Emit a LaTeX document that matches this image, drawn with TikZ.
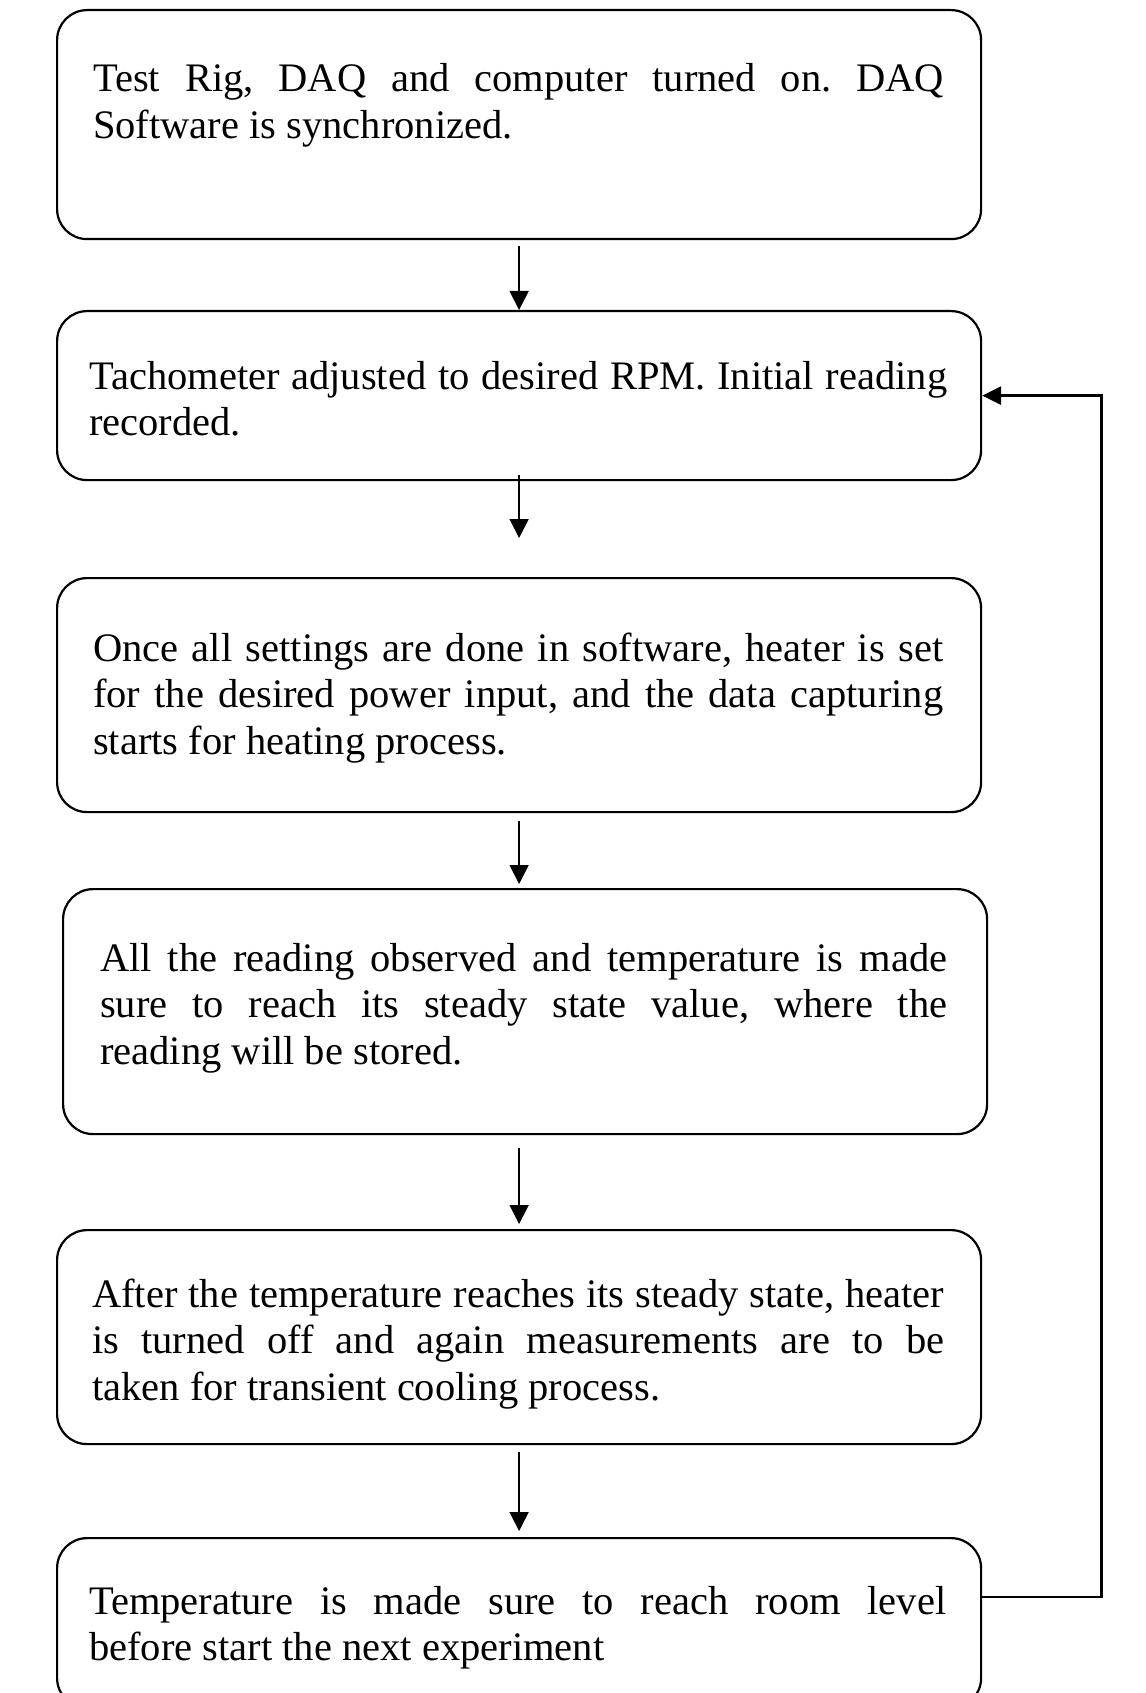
\documentclass[tikz,border=0pt]{standalone}
\usepackage{fontspec}
\setmainfont{Liberation Serif}
\usetikzlibrary{arrows.meta}
\frenchspacing
\newcommand\boxfont{\fontsize{40.5pt}{46.8pt}\selectfont\frenchspacing\tolerance=10000\hyphenpenalty=10000\parindent=0pt}
\begin{document}
\begin{tikzpicture}[x=1pt,y=-1pt,
  box/.style={draw, line width=2.2pt, rounded corners=30pt, inner sep=0pt, anchor=north west},
  txt/.style={inner sep=0pt, anchor=base west},
  arr/.style={line width=1.8pt, -{Triangle[width=19pt,length=19pt]}},
  fb/.style={line width=2.8pt, -{Triangle[width=18pt,length=19pt]}}]
\useasboundingbox (0,0) rectangle (1145,1693);
\clip (0,0) rectangle (1145,1693);

% boxes
\node[box, minimum width=924pt, minimum height=229pt] (b1) at (56,9) {};
\node[box, minimum width=924pt, minimum height=169pt] (b2) at (56,310) {};
\node[box, minimum width=924pt, minimum height=234pt] (b3) at (56,577) {};
\node[box, minimum width=924pt, minimum height=245pt] (b4) at (62,888) {};
\node[box, minimum width=924pt, minimum height=214pt] (b5) at (56,1229) {};
\node[box, minimum width=924pt, minimum height=170pt] (b6) at (56,1537) {};

% texts
\node[txt] (t1) at (93,92) {\parbox[t]{851pt}{\boxfont Test Rig, DAQ and computer turned on. DAQ\linebreak Software is synchronized.}};
\node[txt] (t2) at (89,389) {\parbox[t]{858pt}{\boxfont Tachometer adjusted to desired RPM. Initial reading\linebreak recorded.}};
\node[txt] (t3) at (93,661) {\parbox[t]{850pt}{\boxfont Once all settings are done in software, heater is set\linebreak for the desired power input, and the data capturing\linebreak starts for heating process.}};
\node[txt] (t4) at (100,971) {\parbox[t]{847pt}{\boxfont All the reading observed and temperature is made\linebreak sure to reach its steady state value, where the\linebreak reading will be stored.}};
\node[txt] (t5) at (92,1307) {\parbox[t]{852pt}{\boxfont After the temperature reaches its steady state, heater\linebreak is turned off and again measurements are to be\linebreak taken for transient cooling process.}};
\node[txt] (t6) at (89,1614) {\parbox[t]{857pt}{\boxfont Temperature is made sure to reach room level\linebreak before start the next experiment}};

% arrows
\draw[arr, shorten <=6pt] (b1.south) -- (b2.north);
\draw[arr, shorten <=-6pt, shorten >=39pt] (b2.south) -- (b3.north);
\draw[arr, shorten <=8pt, shorten >=4pt] (b3.south) -- (b3.south |- b4.north);
\draw[arr, shorten <=13pt, shorten >=5pt] (b5.north |- b4.south) -- (b5.north);
\draw[arr, shorten <=7pt, shorten >=6pt] (b5.south) -- (b6.north);

% feedback loop
\coordinate (loop) at (1101.5,0);
\draw[fb] ([yshift=-60pt]b6.north east) -| (loop |- b2.east) -- (b2.east);
\end{tikzpicture}
\end{document}
